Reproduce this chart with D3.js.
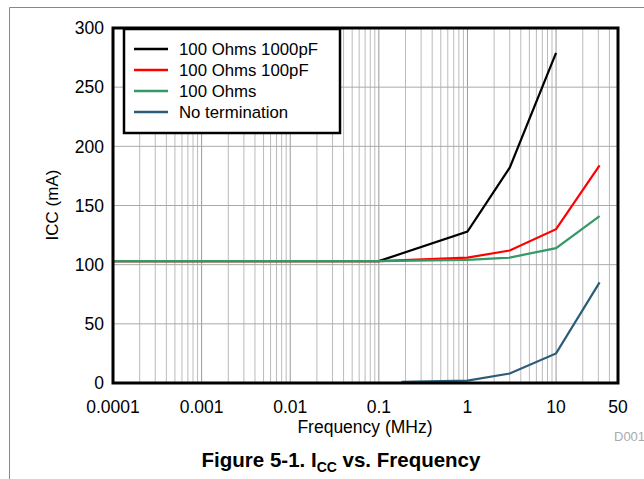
<!DOCTYPE html>
<html>
<head>
<meta charset="utf-8">
<script src="https://cdn.jsdelivr.net/npm/d3@7"></script>
<style>
  body { margin: 0; background: #fff; }
  text { font-family: "Liberation Sans", Arial, sans-serif; }
</style>
</head>
<body>
<svg></svg>
<script>
const width = 644;
const height = 479;

// data
const seriesNames = ["100 Ohms 1000pF", "100 Ohms 100pF", "100 Ohms", "No termination"];
const seriesColors = ["#000000", "#ff0000", "#339966", "#2b5c78"];
const freq1000pF = [0.0001, 0.1, 1, 3, 10];
const icc1000pF = [103, 103, 128, 182, 279];
const freq100pF = [0.0001, 0.1, 1, 3, 10, 31];
const icc100pF = [103, 103, 106, 112, 130, 184];
const freq100 = [0.0001, 0.1, 1, 3, 10, 31];
const icc100 = [103, 103, 104, 106, 114, 141];
const freqNoTerm = [0.18, 1, 3, 10, 31];
const iccNoTerm = [1, 2, 8, 25, 85];
const xTicks = [0.0001, 0.001, 0.01, 0.1, 1, 10, 50];
const xTickLabels = ["0.0001", "0.001", "0.01", "0.1", "1", "10", "50"];
const yTicks = [0, 50, 100, 150, 200, 250, 300];

let svg = d3.select("svg")
    .attr("width", width)
    .attr("height", height);

// outer figure frame
svg.append("path")
    .attr("d", `M9.5,${height} V7.5 H${width}`)
    .attr("fill", "none")
    .attr("stroke", "#888")
    .attr("stroke-width", 1);

const pLeft = 113, pRight = 618, pTop = 28, pBottom = 383;

let x = d3.scaleLog().domain([0.0001, 50]).range([pLeft, pRight]);
let y = d3.scaleLinear().domain([0, 300]).range([pBottom, pTop]);

// minor grid: 2..9 of each decade
let minor = [];
for (let e = -4; e <= 1; e++) {
    for (let m = 1; m <= 9; m++) {
        let v = m * Math.pow(10, e);
        if (v > 0.0001 && v < 50) minor.push(v);
    }
}

let grid = svg.append("g");
grid.selectAll("line.vx")
    .data(minor)
    .join("line")
    .attr("x1", d => x(d)).attr("x2", d => x(d))
    .attr("y1", pTop).attr("y2", pBottom)
    .attr("stroke", d => (Math.abs(Math.log10(d) - Math.round(Math.log10(d))) < 1e-9) ? "#999" : "#bbb")
    .attr("stroke-width", 1);

grid.selectAll("line.hy")
    .data(yTicks.slice(1, -1))
    .join("line")
    .attr("x1", pLeft).attr("x2", pRight)
    .attr("y1", d => y(d)).attr("y2", d => y(d))
    .attr("stroke", "#aaa")
    .attr("stroke-width", 1);

// series
const series = [
    {f: freq1000pF, v: icc1000pF},
    {f: freq100pF, v: icc100pF},
    {f: freq100, v: icc100},
    {f: freqNoTerm, v: iccNoTerm}
];

const line = d3.line()
    .x(d => x(d[0]))
    .y(d => y(d[1]));

series.forEach((s, i) => {
    svg.append("path")
        .attr("d", line(d3.zip(s.f, s.v)))
        .attr("fill", "none")
        .attr("stroke", seriesColors[i])
        .attr("stroke-width", 2.2);
});

// plot border
svg.append("rect")
    .attr("x", pLeft).attr("y", pTop)
    .attr("width", pRight - pLeft).attr("height", pBottom - pTop)
    .attr("fill", "none")
    .attr("stroke", "#000")
    .attr("stroke-width", 3);

// axis labels
svg.append("g")
    .selectAll("text")
    .data(yTicks)
    .join("text")
    .attr("x", 104)
    .attr("y", d => y(d))
    .attr("dy", "0.36em")
    .attr("text-anchor", "end")
    .attr("font-size", 17.5)
    .text(d => d);

svg.append("g")
    .selectAll("text")
    .data(xTicks)
    .join("text")
    .attr("x", d => x(d))
    .attr("y", 413)
    .attr("text-anchor", "middle")
    .attr("font-size", 17.5)
    .text((d, i) => xTickLabels[i]);

svg.append("text")
    .attr("x", 365).attr("y", 433)
    .attr("text-anchor", "middle")
    .attr("font-size", 17.5)
    .text("Frequency (MHz)");

svg.append("text")
    .attr("transform", "translate(58,205) rotate(-90)")
    .attr("text-anchor", "middle")
    .attr("font-size", 17)
    .text("ICC (mA)");

svg.append("text")
    .attr("x", 614).attr("y", 441)
    .attr("font-size", 13)
    .attr("fill", "#aaa")
    .text("D001");

// caption
let cap = svg.append("text")
    .attr("x", 341).attr("y", 467)
    .attr("text-anchor", "middle")
    .attr("font-size", 20.5)
    .attr("font-weight", "bold");
cap.append("tspan").text("Figure 5-1. I");
cap.append("tspan").attr("font-size", 14).attr("dy", 5).text("CC");
cap.append("tspan").attr("dy", -5).text(" vs. Frequency");

// legend
let legend = svg.append("g");
legend.append("rect")
    .attr("x", 124).attr("y", 29)
    .attr("width", 216).attr("height", 104)
    .attr("fill", "#fff")
    .attr("stroke", "#000")
    .attr("stroke-width", 2.5);

seriesNames.forEach((name, i) => {
    let ly = 49 + i * 21;
    legend.append("line")
        .attr("x1", 134).attr("x2", 168)
        .attr("y1", ly).attr("y2", ly)
        .attr("stroke", seriesColors[i])
        .attr("stroke-width", 2.5);
    legend.append("text")
        .attr("x", 179).attr("y", ly)
        .attr("dy", "0.36em")
        .attr("font-size", 16.8)
        .text(name);
});
</script>
</body>
</html>
